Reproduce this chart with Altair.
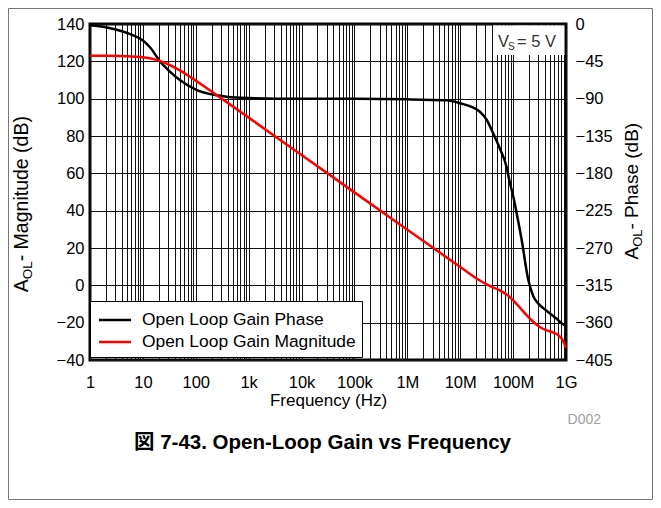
import altair as alt
import pandas as pd

FONT = "Liberation Sans, Arial, Noto Sans CJK JP"

# ---------------- data ----------------
mag_freq_hz = [1, 2, 5, 10, 15, 20, 30, 50, 70, 100, 150, 250, 500, 1e3, 1e4, 1e5, 1e6, 1e7, 2e7, 3.6e7,
               5.6e7, 8e7, 1.07e8, 1.4e8, 1.8e8, 2.4e8, 3.2e8, 4.2e8, 5.6e8, 7e8, 8.5e8, 1e9]
mag_db = [123.0, 122.96, 122.78, 122.18, 121.34, 120.4, 118.44, 115.14, 112.54, 109.67,
          106.23, 101.85, 95.87, 89.85, 69.8, 49.8, 29.8, 9.8, 3.8, -0.3,
          -2.7, -5.5, -8.8, -12.5, -16.0, -19.5, -22.3, -24.0, -25.2, -26.5, -29.0, -33.5]

ph_freq_hz = [1, 2, 3.2, 5.6, 10, 14, 21, 32, 50, 100, 250, 700, 1e4, 1e5, 1e6, 1.9e6, 5.5e6, 1e7,
              2.35e7, 3.2e7, 4.2e7, 5.6e7, 7.5e7, 8.45e7, 1e8, 1.2e8, 1.45e8, 1.93e8, 2.4e8, 3e8,
              3.7e8, 5e8, 6.6e8, 8e8, 1e9]
ph_deg = [-1.5, -4, -7, -12, -20, -29, -45, -57, -67.5, -79, -86, -89, -90, -90, -90.8, -91.3, -91.8,
          -95.5, -105.7, -116, -131.8, -150, -172, -188, -207, -232, -260, -308, -328, -337,
          -342.5, -349, -355, -360, -364]

series_names = ["Open Loop Gain Phase", "Open Loop Gain Magnitude"]
series_colors = ["#000000", "#ff0000"]

decade_values = [1, 10, 100, 1000, 10000, 100000, 1000000, 10000000, 100000000, 1000000000]
decade_labels = ["1", "10", "100", "1k", "10k", "100k", "1M", "10M", "100M", "1G"]
mag_ticks = [-40, -20, 0, 20, 40, 60, 80, 100, 120, 140]
phase_ticks = [0, -45, -90, -135, -180, -225, -270, -315, -360, -405]

x_title = "Frequency (Hz)"
left_title = ["A", "OL", " - Magnitude (dB)"]
right_title = ["A", "OL", " - Phase (dB)"]
cond_text = ["V", "S", "= 5 V"]
caption = "図 7-43. Open-Loop Gain vs Frequency"
code_label = "D002"

# minor + major grid positions (1..9 x 10^k)
x_grid = []
for d in decade_values[:-1]:
    for m in range(1, 10):
        x_grid.append(m * d)
x_grid.append(decade_values[-1])

label_expr = "''"
for v, s in reversed(list(zip(decade_values, decade_labels))):
    label_expr = f"datum.value == {v} ? '{s}' : ({label_expr})"

mag_df = pd.DataFrame({"freq": mag_freq_hz, "value": mag_db, "series": series_names[1]})
ph_df = pd.DataFrame({"freq": ph_freq_hz, "value": ph_deg, "series": series_names[0]})
one = pd.DataFrame({"k": [0]})

W, H = 476, 336


def build(extra_legend):
    xscale = alt.Scale(type="log", domain=[1, 1e9], nice=False)
    xaxis = alt.Axis(values=x_grid, labelExpr=label_expr, grid=True, ticks=False, tickSize=0,
                     domain=False, labelFontSize=16.5, labelFont=FONT, labelColor="black",
                     labelPadding=14, labelOverlap=False, labelFlush=False, labelBound=False,
                     title=x_title, titleFontSize=17, titleFont=FONT, titleFontWeight="normal",
                     titleColor="black", titleBaseline="alphabetic", titleY=45)
    color = alt.Color("series:N", scale=alt.Scale(domain=series_names, range=series_colors),
                      legend=alt.Legend(title=None, orient="none", legendX=0, legendY=277,
                                        direction="vertical", fillColor="white", strokeColor="black",
                                        padding=6, symbolType="M-1.36,0H1.36", symbolSize=552,
                                        symbolStrokeWidth=2.5, labelFontSize=17.4, labelFont=FONT,
                                        labelColor="black", labelOffset=14, rowPadding=-6,
                                        symbolOffset=6, labelLimit=0, **extra_legend))

    mag = alt.Chart(mag_df).mark_line(strokeWidth=2.5, interpolate="monotone").encode(
        x=alt.X("freq:Q", scale=xscale, axis=xaxis),
        y=alt.Y("value:Q", scale=alt.Scale(domain=[-40, 140], nice=False, zero=False),
                axis=alt.Axis(values=mag_ticks, grid=True, ticks=False, tickSize=0, domain=False,
                              labelFontSize=16.5, labelFont=FONT, labelColor="black",
                              labelPadding=6, title=None, labelOverlap=False)),
        color=color,
    )
    ph = alt.Chart(ph_df).mark_line(strokeWidth=2.5, interpolate="monotone").encode(
        x=alt.X("freq:Q", scale=xscale),
        y=alt.Y("value:Q", scale=alt.Scale(domain=[-405, 0], nice=False, zero=False),
                axis=alt.Axis(orient="right", values=phase_ticks, grid=False, ticks=False,
                              tickSize=0, domain=False, labelFontSize=16.5, labelFont=FONT,
                              labelColor="black", labelPadding=9, title=None,
                              labelOverlap=False)),
        color=color,
    )

    def txt(s, x, y, size, angle=0, align="left", color="black", weight="normal"):
        return alt.Chart(one).mark_text(text=s, fontSize=size, font=FONT, angle=angle, align=align,
                                        baseline="alphabetic", color=color,
                                        fontWeight=weight).encode(x=alt.value(x), y=alt.value(y))

    # condition box (white) top-right
    cbox = alt.Chart(one).mark_rect(fill="white", stroke=None).encode(
        x=alt.value(403), x2=alt.value(474.5), y=alt.value(1.5), y2=alt.value(31))

    # outer figure border
    border = alt.Chart(one).mark_rect(fill=None, stroke="#777777", strokeWidth=1).encode(
        x=alt.value(-81.5), x2=alt.value(562.5), y=alt.value(-15.5), y2=alt.value(475.5))

    layers = [
        border, ph, mag, cbox,
        txt(cond_text[0], 408, 23, 16.5, color="#333333"),
        txt(cond_text[1], 418, 26, 10, color="#333333"),
        txt(cond_text[2], 427, 23, 16.5, color="#333333"),
        # left y title (reads upward)
        txt(left_title[0], -62, 268.3, 19.5, angle=270),
        txt(left_title[1], -58, 255.3, 13.5, angle=270),
        txt(left_title[2], -62, 237.3, 19.5, angle=270),
        # right y title
        txt(right_title[0], 548, 235.5, 19, angle=270),
        txt(right_title[1], 552, 222.8, 13, angle=270),
        txt(right_title[2], 548, 205.5, 19, angle=270),
        txt(code_label, 511, 400, 14, align="right", color="#a0a0a0"),
        txt(caption, 232.5, 425, 20.5, align="center", weight="bold"),
    ]

    ch = alt.layer(*layers).resolve_scale(y="independent").properties(
        width=W, height=H,
        padding={"left": 82, "top": 16, "right": 87, "bottom": 140},
        autosize=alt.AutoSizeParams(type="none"),
    ).configure_view(stroke="black", strokeWidth=3).configure_axis(
        gridColor="#111111", gridWidth=1, gridOpacity=1)
    return ch


try:
    chart = build({"strokeWidth": 2.5})
    chart.to_dict()
except Exception:
    chart = build({})

chart.save("out.html", embed_options={"renderer": "svg", "actions": False})
